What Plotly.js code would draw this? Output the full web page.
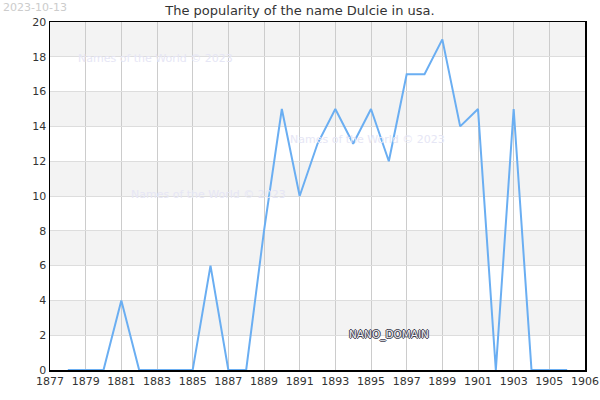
<!DOCTYPE html>
<html>
<head>
<meta charset="utf-8">
<script src="https://cdn.plot.ly/plotly-3.0.1.min.js"></script>
<style>
  html, body { margin: 0; padding: 0; background: #fff; }
  #chart { width: 600px; height: 400px; }
</style>
</head>
<body>
<div id="chart"></div>
<script>
// years and counts
var years = [1878, 1879, 1880, 1881, 1882, 1883, 1884, 1885, 1886, 1887,
             1888, 1889, 1890, 1891, 1892, 1893, 1894, 1895, 1896, 1897,
             1898, 1899, 1900, 1901, 1902, 1903, 1904, 1905, 1906]
var counts = [0, 0, 0, 4, 0, 0, 0, 0, 6, 0,
              0, 8, 15, 10, 13, 15, 13, 15, 12, 17,
              17, 19, 14, 15, 0, 15, 0, 0, 0]

// the original axis labels its right edge "1906"
var xTickVals = [1877, 1879, 1881, 1883, 1885, 1887, 1889, 1891, 1893,
                 1895, 1897, 1899, 1901, 1903, 1905, 1907]
var xTickText = ['1877', '1879', '1881', '1883', '1885', '1887', '1889', '1891', '1893',
                 '1895', '1897', '1899', '1901', '1903', '1905', '1906']
var yTickVals = [0, 2, 4, 6, 8, 10, 12, 14, 16, 18, 20]

var nameTitle = 'The popularity of the name Dulcie in usa.'
var dateLabel = '2023-10-13'
var watermark = 'Names of the World © 2023'

// grey bands between every other pair of gridlines
var shapes = []
for (var b = 2; b < 20; b += 4) {
  shapes.push({
    type: 'rect', xref: 'paper', yref: 'y', x0: 0, x1: 1, y0: b, y1: b + 2,
    fillcolor: '#f3f3f3', line: {width: 0}, layer: 'below'
  })
}

var trace = {
  x: years,
  y: counts,
  type: 'scatter',
  mode: 'lines',
  line: {color: '#6aaef2', width: 2},
  hoverinfo: 'x+y'
}

var wmFont = {family: 'DejaVu Sans', size: 11, color: '#e6e6f5'}

var layout = {
  width: 600,
  height: 400,
  margin: {l: 50, r: 15, t: 22, b: 30},
  paper_bgcolor: '#ffffff',
  plot_bgcolor: '#ffffff',
  font: {family: 'DejaVu Sans', size: 11, color: '#333'},
  showlegend: false,
  title: {text: nameTitle, font: {size: 13, color: '#333'}, x: 0.5, xanchor: 'center', y: 0.975, yanchor: 'middle'},
  xaxis: {
    range: [1877, 1907],
    tickvals: xTickVals,
    ticktext: xTickText,
    showgrid: true,
    gridcolor: '#cccccc',
    zeroline: false,
    showline: true,
    linecolor: '#000',
    linewidth: 1.5,
    mirror: true,
    ticks: '',
    ticklen: 0
  },
  yaxis: {
    range: [0, 20],
    tickvals: yTickVals,
    showgrid: true,
    gridcolor: '#dddddd',
    zeroline: false,
    showline: true,
    linecolor: '#000',
    linewidth: 1.5,
    mirror: true,
    ticks: ''
  },
  shapes: shapes,
  annotations: [
    {text: dateLabel, xref: 'paper', yref: 'paper', x: -0.092, y: 1.043, xanchor: 'left', yanchor: 'middle',
     showarrow: false, font: {family: 'DejaVu Sans', size: 11, color: '#cccccc'}},
    {text: watermark, xref: 'paper', yref: 'paper', x: 0.049, y: 0.894, xanchor: 'left', yanchor: 'middle',
     showarrow: false, font: wmFont},
    {text: watermark, xref: 'paper', yref: 'paper', x: 0.445, y: 0.661, xanchor: 'left', yanchor: 'middle',
     showarrow: false, font: wmFont},
    {text: watermark, xref: 'paper', yref: 'paper', x: 0.147, y: 0.503, xanchor: 'left', yanchor: 'middle',
     showarrow: false, font: wmFont},
    {text: 'NANO_DOMAIN', xref: 'paper', yref: 'paper', x: 0.555, y: 0.101, xanchor: 'left', yanchor: 'middle',
     showarrow: false,
     font: {family: 'DejaVu Sans', size: 10.5, color: '#eeeef2',
            shadow: '1px 0 0 #3e3e4e, -1px 0 0 #3e3e4e, 0 1px 0 #3e3e4e, 0 -1px 0 #3e3e4e'}}
  ]
}

Plotly.newPlot('chart', [trace], layout, {displayModeBar: false, staticPlot: true})
</script>
</body>
</html>
